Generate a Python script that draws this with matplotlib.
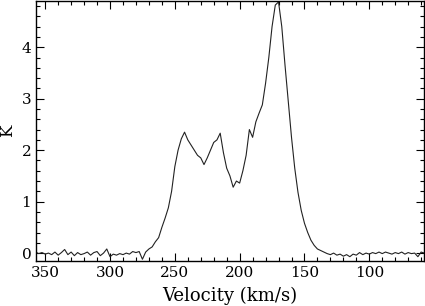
import numpy as np
import matplotlib
matplotlib.use('Agg')
import matplotlib.pyplot as plt
from matplotlib.ticker import MultipleLocator

FNT = 11
LW = 0.8

# channel velocities (km/s) and antenna temperature (K)
velocity = [357.5, 355.0, 352.5, 350.0, 347.5, 345.0, 342.5, 340.0, 337.5, 335.0,
            332.5, 330.0, 327.5, 325.0, 322.5, 320.0, 317.5, 315.0, 312.5, 310.0,
            307.5, 305.0, 302.5, 300.0, 297.5, 295.0, 292.5, 290.0, 287.5, 285.0,
            282.5, 280.0, 277.5, 275.0, 272.5, 270.0, 267.5, 265.0, 262.5, 260.0,
            257.5, 255.0, 252.5, 250.0, 247.5, 245.0, 242.5, 240.0, 237.5, 235.0,
            232.5, 230.0, 227.5, 225.0, 222.5, 220.0, 217.5, 215.0, 212.5, 210.0,
            207.5, 205.0, 202.5, 200.0, 197.5, 195.0, 192.5, 190.0, 187.5, 185.0,
            182.5, 180.0, 177.5, 175.0, 172.5, 170.0, 167.5, 165.0, 162.5, 160.0,
            157.5, 155.0, 152.5, 150.0, 147.5, 145.0, 142.5, 140.0, 137.5, 135.0,
            132.5, 130.0, 127.5, 125.0, 122.5, 120.0, 117.5, 115.0, 112.5, 110.0,
            107.5, 105.0, 102.5, 100.0, 97.5, 95.0, 92.5, 90.0, 87.5, 85.0,
            82.5, 80.0, 77.5, 75.0, 72.5, 70.0, 67.5, 65.0, 62.5, 60.0, 57.5]

temp_k = [0.02, -0.01, 0.01, -0.02, 0.00, -0.03, 0.02, -0.04, 0.01, 0.07,
          -0.03, 0.02, -0.05, 0.01, -0.03, -0.01, 0.02, -0.04, 0.01, 0.03,
          -0.05, 0.00, 0.08, -0.07, -0.02, -0.04, -0.01, -0.03, 0.00, -0.02,
          0.03, 0.01, 0.03, -0.12, 0.02, 0.08, 0.12, 0.22, 0.30, 0.50,
          0.68, 0.88, 1.20, 1.68, 2.00, 2.22, 2.35, 2.20, 2.10, 2.00,
          1.90, 1.85, 1.72, 1.85, 2.00, 2.15, 2.20, 2.33, 1.95, 1.65,
          1.50, 1.28, 1.40, 1.36, 1.60, 1.90, 2.40, 2.25, 2.55, 2.72,
          2.88, 3.30, 3.80, 4.40, 4.82, 4.88, 4.40, 3.65, 2.95, 2.25,
          1.65, 1.18, 0.83, 0.58, 0.40, 0.25, 0.15, 0.08, 0.05, 0.02,
          -0.01, -0.03, 0.00, -0.04, -0.02, -0.06, -0.03, -0.07, -0.02, -0.04,
          0.01, -0.03, 0.00, -0.02, 0.01, -0.01, 0.02, -0.01, 0.02, 0.00,
          -0.02, 0.01, -0.01, 0.02, -0.02, 0.01, -0.01, 0.00, -0.07, 0.02, 0.00]

plt.rcParams['font.family'] = ['DejaVu Serif']

fig = plt.figure(figsize=(4.25, 3.06), dpi=100)
ax = fig.add_axes([0.085, 0.146, 0.912, 0.851])

ax.plot(velocity, temp_k, color='#222222', linewidth=LW)

ax.set_xlim(357, 58)
ax.set_ylim(-0.16, 4.9)

ax.xaxis.set_major_locator(MultipleLocator(50))
ax.xaxis.set_minor_locator(MultipleLocator(10))
ax.yaxis.set_major_locator(MultipleLocator(1))
ax.yaxis.set_minor_locator(MultipleLocator(0.2))
ax.tick_params(which='both', direction='in', top=True, right=True, labelsize=FNT)
ax.tick_params(which='major', length=6, width=0.8)
ax.tick_params(which='minor', length=3, width=0.8)
for s in ax.spines.values():
    s.set_linewidth(1.0)

ax.set_xlabel('Velocity (km/s)', fontsize=13, labelpad=5)
ax.set_ylabel('K', fontsize=12)
ax.yaxis.set_label_coords(-0.052, 0.5)

fig.savefig('out.png', dpi=100)
